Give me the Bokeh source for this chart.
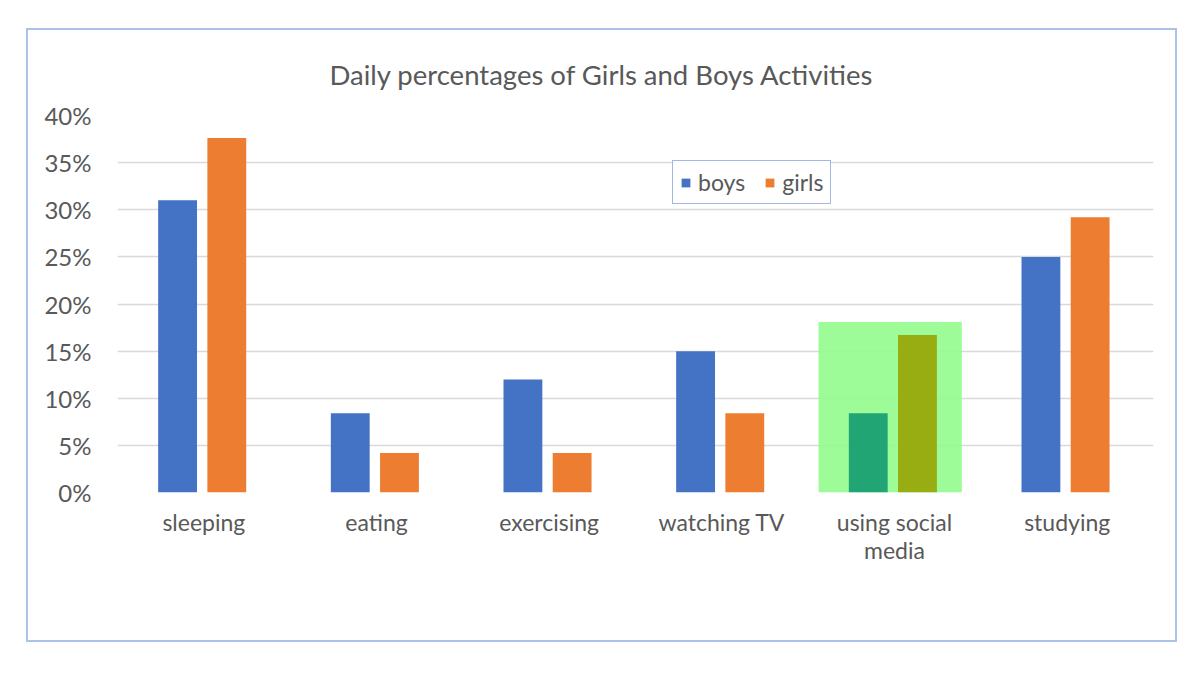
from bokeh.plotting import figure
from bokeh.models import (Range1d, FixedTicker, PrintfTickFormatter, Legend, LegendItem,
                          ColumnDataSource, Title)
from bokeh.transform import dodge
from bokeh.embed import file_html
from bokeh.resources import INLINE

# Daily share of time (percent of the day) per activity
activities = ["sleeping", "eating", "exercising", "watching TV", "using social\nmedia", "studying"]
boys = [31.0, 8.4, 12.0, 15.0, 8.4, 25.0]
girls = [37.6, 4.2, 4.2, 8.4, 16.7, 29.2]
y_ticks = [0, 5, 10, 15, 20, 25, 30, 35, 40]

highlighted = "using social\nmedia"
highlight_top = 18.1

BOYS_COLOR = "#4472C4"
GIRLS_COLOR = "#ED7D31"
BOYS_HL = "#22A574"
GIRLS_HL = "#97AD12"
TEXT = "#595959"
FONT = "Lato"

source = ColumnDataSource(dict(
    activity=activities,
    boys=boys,
    girls=girls,
    boys_color=[BOYS_HL if a == highlighted else BOYS_COLOR for a in activities],
    girls_color=[GIRLS_HL if a == highlighted else GIRLS_COLOR for a in activities],
))

p = figure(x_range=activities, y_range=Range1d(0, 40), width=1147, height=610,
           output_backend="svg", toolbar_location=None,
           min_border_left=89, min_border_right=22, min_border_top=85, min_border_bottom=148)
p.margin = (30, 25, 34, 28)
p.styles = {"outline": "2.5px solid #A9C3E9"}
p.outline_line_color = None
p.xgrid.visible = False
p.ygrid.grid_line_color = "#D9D9D9"
p.ygrid.grid_line_width = 1.5

p.yaxis.ticker = FixedTicker(ticks=y_ticks)
p.yaxis.formatter = PrintfTickFormatter(format="%d%%")
for ax in (p.xaxis, p.yaxis):
    ax.axis_line_color = None
    ax.major_tick_line_color = None
    ax.minor_tick_line_color = None
    ax.major_label_text_font = FONT
    ax.major_label_text_font_size = "23px"
    ax.major_label_text_color = TEXT
p.yaxis.major_label_text_font_size = "24px"
p.yaxis.major_label_standoff = 20
p.xaxis.major_label_standoff = 9
p.xaxis.major_label_text_line_height = 1.0

# highlight panel behind the social media pair
idx = activities.index(highlighted)
p.quad(left=idx + 0.06, right=idx + 0.89, bottom=0, top=highlight_top,
       fill_color="#92FC8D", fill_alpha=0.9, line_color=None)

r_boys = p.vbar(x=dodge("activity", -0.152, range=p.x_range), top="boys", width=0.225,
                source=source, fill_color="boys_color", line_color=None)
r_girls = p.vbar(x=dodge("activity", 0.133, range=p.x_range), top="girls", width=0.225,
                 source=source, fill_color="girls_color", line_color=None)

legend = Legend(items=[LegendItem(label="boys", renderers=[r_boys]),
                       LegendItem(label="girls", renderers=[r_girls])],
                orientation="horizontal", location=(555, 288))
legend.label_text_font = FONT
legend.label_text_font_size = "23px"
legend.label_text_color = TEXT
legend.border_line_color = BOYS_COLOR
legend.border_line_width = 1.5
legend.padding = 7
legend.spacing = 19
legend.label_standoff = 7
legend.glyph_width = 11
legend.glyph_height = 11
legend.margin = 0
p.add_layout(legend, "center")

p.title = Title(text="Daily percentages of Girls and Boys Activities", align="left",
                offset=212, standoff=49, text_font=FONT, text_font_size="27.5px",
                text_font_style="normal", text_color=TEXT)

open("out.html", "w").write(file_html(p, INLINE))
